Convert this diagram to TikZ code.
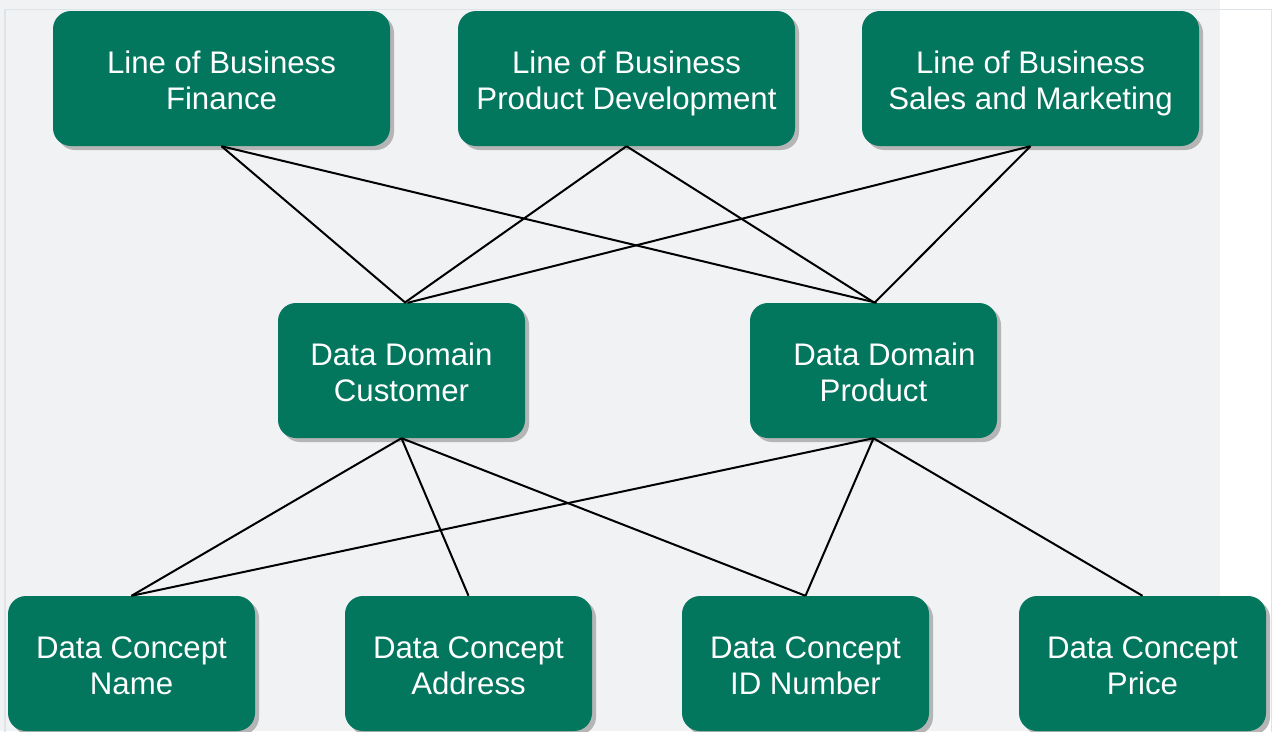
\documentclass[tikz,border=0pt]{standalone}
\usepackage{fontspec}
\setmainfont{Liberation Sans}
\usetikzlibrary{shadows}
\definecolor{boxgreen}{HTML}{03765E}
\definecolor{bggray}{HTML}{F1F2F4}
\definecolor{framecol}{HTML}{DDE3E6}
\definecolor{shadowgray}{HTML}{B5B5B5}
\tikzset{
  box/.style={draw=none, fill=boxgreen, rounded corners=18pt, text=white,
    align=center, inner sep=0pt,
    font=\fontsize{31.2pt}{36pt}\selectfont,
    execute at begin node={\rule{0pt}{68pt}},
    execute at end node={\rule[-7pt]{0pt}{7pt}},
    drop shadow={shadow xshift=4pt, shadow yshift=-4pt, fill=shadowgray, opacity=1}},
  topbox/.style={box, minimum width=337pt, minimum height=135pt},
  midbox/.style={box, minimum width=247pt, minimum height=135pt},
  link/.style={draw=black, line width=2pt}
}
\begin{document}
\begin{tikzpicture}[x=1pt,y=-1pt]
\useasboundingbox (0,0) rectangle (1276,731);
\clip (0,0) rectangle (1276,731);
\fill[bggray] (0,0) rectangle (1220,731);
\draw[framecol, line width=1.5pt] (5,740) -- (5,9.5) -- (1271.5,9.5) -- (1271.5,740);

\node[topbox] (fin) at (221.5,78.5) {Line of Business\\Finance};
\node[topbox] (dev) at (626.5,78.5) {Line of Business\\Product Development};
\node[topbox] (sal) at (1030.5,78.5) {Line of Business\\Sales and Marketing};

\node[midbox] (cust) at (401.5,370.5) {Data Domain\\Customer};
\node[midbox] (prod) at (873.5,370.5) {\hspace{22pt}Data Domain\\Product};

\node[midbox] (name) at (131.5,663.5) {Data Concept\\Name};
\node[midbox] (addr) at (468.5,663.5) {Data Concept\\Address};
\node[midbox] (idn) at (805.5,663.5) {Data Concept\\ID Number};
\node[midbox] (price) at (1142.5,663.5) {Data Concept\\Price};

\draw[link] (fin.south) -- ([xshift=4pt]cust.north);
\draw[link] (fin.south) -- ([xshift=3pt]prod.north);
\draw[link] (dev.south) -- ([xshift=3pt]cust.north);
\draw[link] (dev.south) -- ([xshift=1pt]prod.north);
\draw[link] (sal.south) -- ([xshift=6pt]cust.north);
\draw[link] (sal.south) -- ([xshift=1pt]prod.north);

\draw[link] (cust.south) -- (name.north);
\draw[link] (cust.south) -- (addr.north);
\draw[link] (cust.south) -- (idn.north);
\draw[link] (prod.south) -- (name.north);
\draw[link] (prod.south) -- (idn.north);
\draw[link] (prod.south) -- (price.north);
\end{tikzpicture}
\end{document}
